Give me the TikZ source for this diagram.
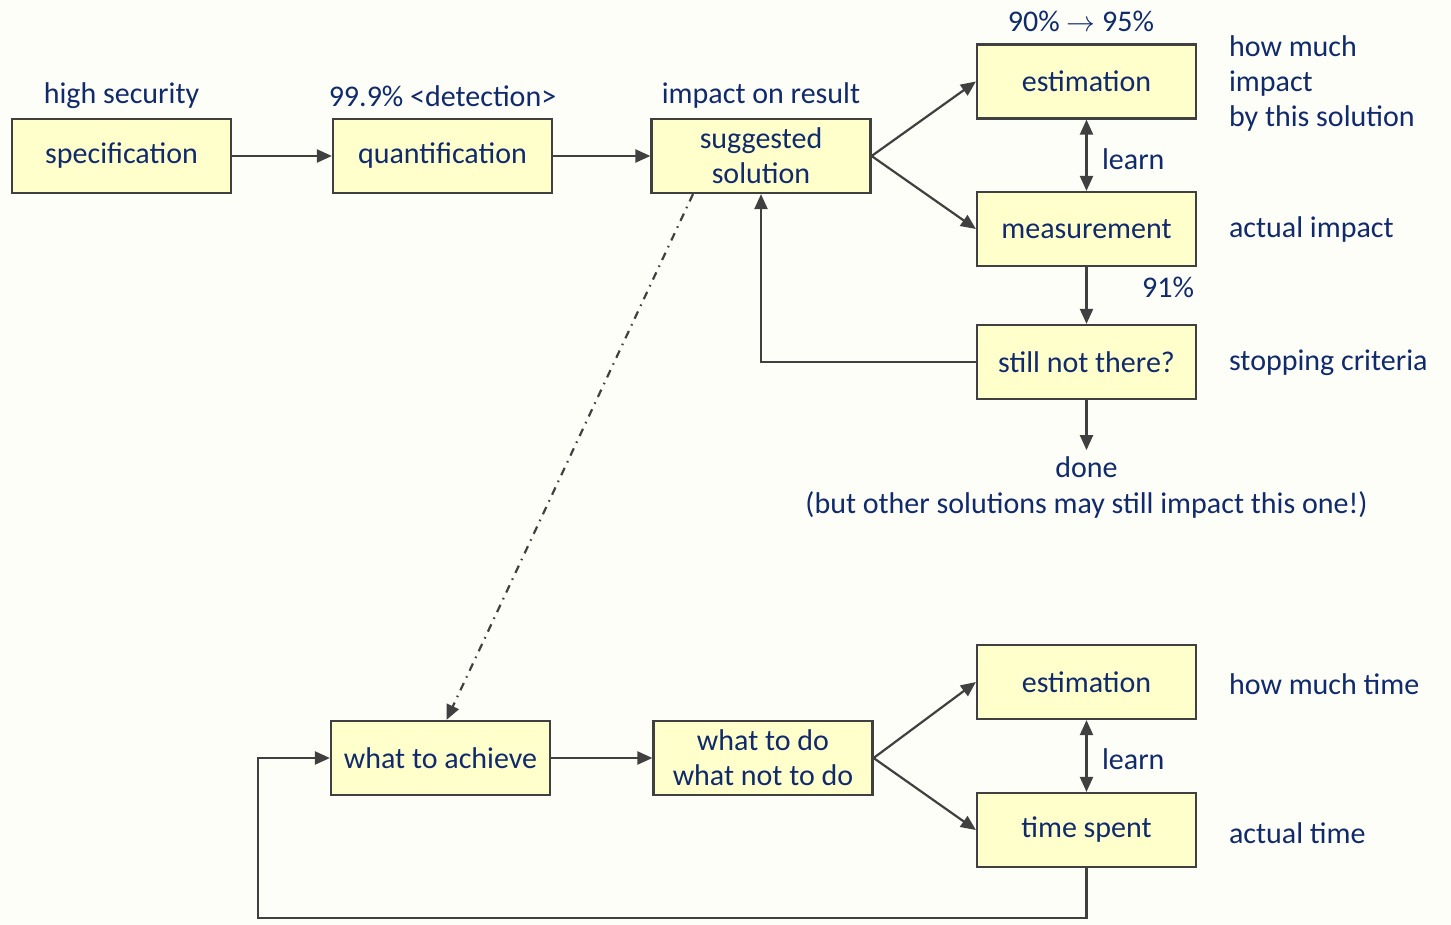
\documentclass[tikz,border=0pt]{standalone}
\usepackage{fontspec}
\setmainfont{Carlito}
\usepackage{xcolor}
\usetikzlibrary{arrows.meta, positioning}
\definecolor{inkblue}{HTML}{102A6C}
\definecolor{boxfill}{HTML}{FFFFCC}
\definecolor{linegray}{HTML}{404040}
\definecolor{paper}{HTML}{FEFEF8}

\begin{document}
\begin{tikzpicture}[x=0.5pt, y=-0.5pt,
                    every node/.style={
                        text=inkblue,
                        font=\fontsize{15pt}{17.5pt}\selectfont
                    },
                    box/.style={
                        draw=linegray,
                        line width=1.1pt,
                        fill=boxfill,
                        minimum width=109.5pt,
                        minimum height=37pt,
                        inner sep=0pt,
                        align=center
                    },
                    arrow/.style={
                        -{Triangle[length=7.5pt,width=6.5pt]},
                        draw=linegray,
                        line width=1.1pt
                    },
                    both/.style={
                        {Triangle[length=7.5pt,width=6.5pt]}-{Triangle[length=7.5pt,width=6.5pt]}
                    },
                    note/.style={
                        anchor=west,
                        align=left
                    }
                ]

                % fond
                \fill[paper] (0,0) rectangle (1451,925);
                \useasboundingbox (0,0) rectangle (1451,925);

                % Ligne du haut
                \node[box] (spec) at (121.5,156) {specification};
                \node[box] (quant) at (442.5,156) {quantification};
                \node[box] (sugg) at (761,156) {suggested\\solution};
                \node[box] (est) at (1086.5,81.5) {estimation};
                \node[box] (meas) at (1086.5,229) {measurement};
                \node[box] (still) at (1086.5,362) {still not there?};
                \node[align=center] (done) at (1086.5,487.5) {done\\(but other solutions may still impact this one!)};

                % Ligne du bas
                \node[box] (ach) at (440.5,758) {what to achieve};
                \node[box] (todo) at (763,758) {what to do\\what not to do};
                \node[box] (estt) at (1086.5,682) {estimation};
                \node[box] (spent) at (1086.5,830) {time spent};

                % Textes
                \node (specnote) at (121.5,96) {high security};
                \node (quantnote) at (442.5,96) {99.9\% <detection>};
                \node (suggnote) at (761,96) {impact on result};
                \node (estnote) at (1081,21) {90\% $\to$ 95\%};
                \node[note] (howmuch) at (1222,84) {how much\\impact\\by this solution};
                \node[note] (learn) at (1095,159) {learn};
                \node[note] (actual) at (1222,230) {actual impact};
                \node (meastxt) at (1168,287) {91\%};
                \node[note] (stopping) at (1222,363) {stopping criteria};
                \node[note] (howtime) at (1222,684) {how much time};
                \node[note] (learnt) at (1095,759) {learn};
                \node[note] (actualt) at (1222,833) {actual time};

                % Flèches du haut
                \draw[arrow] (spec.east) -- (quant.west);
                \draw[arrow] (quant.east) -- (sugg.west);
                \draw[arrow] (sugg.east) -- (est.west);
                \draw[arrow] (sugg.east) -- (meas.west);
                \draw[arrow, both] (est.south) -- (meas.north);
                \draw[arrow] (meas.south) -- (still.north);
                \draw[arrow] (still.west) -| (sugg.south);
                \draw[arrow] (still.south) -- (done.north);

                % Lien pointillé
                \draw[arrow, dash pattern=on 4pt off 3pt on 0.8pt off 3pt] ([xshift=-34pt]sugg.south) -- ([xshift=3pt]ach.north);

                % Flèches du bas
                \draw[arrow] (ach.east) -- (todo.west);
                \draw[arrow] (todo.east) -- (estt.west);
                \draw[arrow] (todo.east) -- (spent.west);
                \draw[arrow, both] (estt.south) -- (spent.north);
                \coordinate (loop) at (258,918);
                \draw[arrow] (spent.south) |- (loop) |- (ach.west);

            \end{tikzpicture}
\end{document}
